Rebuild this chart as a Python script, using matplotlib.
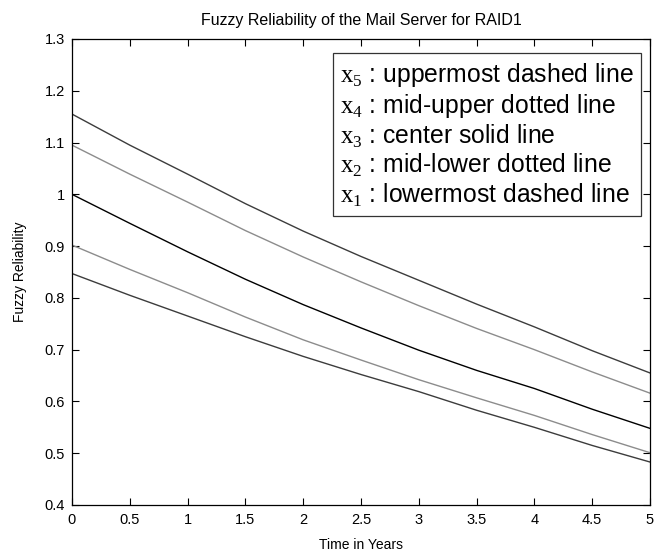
import numpy as np
import matplotlib.pyplot as plt
from matplotlib.ticker import FuncFormatter

plt.rcParams['font.family'] = ['Liberation Sans', 'DejaVu Sans']
plt.rcParams['mathtext.fontset'] = 'custom'
plt.rcParams['mathtext.rm'] = 'Liberation Serif'

# time axis (years) and the five fuzzy reliability curves
years = [0, 0.5, 1, 1.5, 2, 2.5, 3, 3.5, 4, 4.5, 5]
x5 = [1.155, 1.095, 1.039, 0.982, 0.929, 0.880, 0.834, 0.788, 0.744, 0.698, 0.655]
x4 = [1.095, 1.039, 0.985, 0.930, 0.879, 0.831, 0.785, 0.741, 0.700, 0.657, 0.616]
x3 = [1.000, 0.944, 0.889, 0.836, 0.787, 0.742, 0.699, 0.660, 0.625, 0.585, 0.548]
x2 = [0.902, 0.855, 0.810, 0.763, 0.719, 0.680, 0.642, 0.607, 0.573, 0.536, 0.501]
x1 = [0.847, 0.805, 0.765, 0.725, 0.687, 0.652, 0.619, 0.583, 0.550, 0.515, 0.483]

legend_lines = [
    r'$\mathrm{x}_5$ : uppermost dashed line',
    r'$\mathrm{x}_4$ : mid-upper dotted line',
    r'$\mathrm{x}_3$ : center solid line',
    r'$\mathrm{x}_2$ : mid-lower dotted line',
    r'$\mathrm{x}_1$ : lowermost dashed line',
]

fig = plt.figure(figsize=(6.58, 5.54), dpi=100)
ax = fig.add_axes([72/658, 1 - 505/554, 578/658, 466/554])

dark = '#3c3c3c'
light = '#8c8c8c'
ax.plot(years, x5, color=dark, lw=1.0)
ax.plot(years, x4, color=light, lw=1.0)
ax.plot(years, x3, color='black', lw=1.0)
ax.plot(years, x2, color=light, lw=1.0)
ax.plot(years, x1, color=dark, lw=1.0)

ax.set_xlim(0, 5)
ax.set_ylim(0.4, 1.3)
ax.set_xticks(np.arange(0, 5.01, 0.5))
ax.set_yticks(np.arange(0.4, 1.31, 0.1))
fmt = FuncFormatter(lambda v, p: '%g' % round(v, 2))
ax.xaxis.set_major_formatter(fmt)
ax.yaxis.set_major_formatter(fmt)
ax.tick_params(direction='in', length=5, width=0.8, top=True, right=True,
               labelsize=10.5)
ax.tick_params(axis='x', pad=6)
ax.tick_params(axis='y', pad=5)
for s in ax.spines.values():
    s.set_linewidth(0.9)

ax.set_title('Fuzzy Reliability of the Mail Server for RAID1', fontsize=11.5, pad=10)
ax.set_xlabel('Time in Years', fontsize=10, labelpad=8)
ax.set_ylabel('Fuzzy Reliability', fontsize=10, labelpad=13)

ax.text(0.4637, 0.952, '\n'.join(legend_lines), transform=ax.transAxes,
        ha='left', va='top', fontsize=17.8, linespacing=1.12,
        bbox=dict(boxstyle='square,pad=0.3', fc='white', ec='#333333', lw=0.9))

fig.savefig('out.png', dpi=100)
